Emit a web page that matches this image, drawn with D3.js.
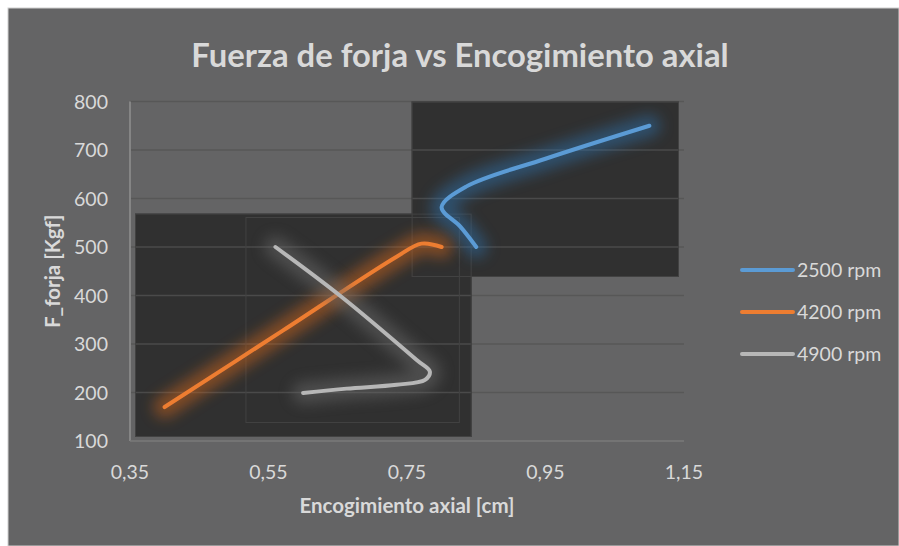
<!DOCTYPE html>
<html>
<head>
<meta charset="utf-8">
<script src="https://cdn.jsdelivr.net/npm/d3@7"></script>
<style>
	body { margin:0; background:#ffffff; }
	text { font-family: Lato, "Open Sans", sans-serif; fill:#d9d9d9; }
</style>
</head>
<body>
<script>
// series values
var rpm2500X = [0.85, 0.827, 0.80, 0.836, 0.95, 1.10];
var rpm2500Y = [500, 542, 582, 625, 682, 750];
var rpm4200X = [0.40, 0.57, 0.735, 0.771, 0.80];
var rpm4200Y = [170, 327, 480, 507, 500];
var rpm4900X = [0.56, 0.653, 0.764, 0.783, 0.776, 0.735, 0.663, 0.60];
var rpm4900Y = [500, 400, 267, 243, 226, 216, 208, 199];

var seriesNames = ['2500 rpm', '4200 rpm', '4900 rpm'];
var seriesColors = ['#5b9bd5', '#ed7d31', '#b7b7b7'];
var glowColors = ['#2f6fa8', '#d0661a', '#6a6a6a'];

var xTicks = [0.35, 0.55, 0.75, 0.95, 1.15];
var yTicks = [100, 200, 300, 400, 500, 600, 700, 800];

var titleText = 'Fuerza de forja vs Encogimiento axial';
var xTitle = 'Encogimiento axial [cm]';
var yTitle = 'F_forja [Kgf]';

function chart(){
	var svgW = 899, svgH = 546;
	var plot = {l:130, r:684, t:101.5, b:441};

	var x = d3.scaleLinear().domain([0.35, 1.15]).range([plot.l, plot.r]);
	var y = d3.scaleLinear().domain([100, 800]).range([plot.b, plot.t]);

	var series = [
		{name:seriesNames[0], pts:d3.zip(rpm2500X, rpm2500Y)},
		{name:seriesNames[1], pts:d3.zip(rpm4200X, rpm4200Y)},
		{name:seriesNames[2], pts:d3.zip(rpm4900X, rpm4900Y)}
	];
	series.forEach(function(s, i){ s.color = seriesColors[i]; s.glow = glowColors[i]; });

	var svg = d3.select('body').append('svg').attr('width', svgW).attr('height', svgH);

	var defs = svg.append('defs');
	defs.append('filter').attr('id', 'glow').attr('x', '-50%').attr('y', '-50%').attr('width', '200%').attr('height', '200%')
		.append('feGaussianBlur').attr('stdDeviation', 7);

	// chart background
	svg.append('rect').attr('x', 8).attr('y', 8).attr('width', svgW - 8).attr('height', svgH - 8)
		.attr('fill', '#646465').attr('stroke', '#d0d0d0').attr('stroke-width', 1);

	// dark boxes around each glowing line (bounding box + 30px, clipped to plot)
	var pad = 30;
	series.forEach(function(s){
		var ex = d3.extent(s.pts, function(d){ return d[0]; });
		var ey = d3.extent(s.pts, function(d){ return d[1]; });
		s.box = {
			x1: Math.max(plot.l + 5, x(ex[0]) - pad), x2: Math.min(plot.r - 5, x(ex[1]) + pad),
			y1: Math.max(plot.t, y(ey[1]) - pad), y2: Math.min(plot.b - 4, y(ey[0]) + pad)
		};
	});

	var clip = defs.append('clipPath').attr('id', 'boxes');
	clip.selectAll('rect').data(series).enter().append('rect')
		.attr('x', function(d){ return d.box.x1; }).attr('y', function(d){ return d.box.y1; })
		.attr('width', function(d){ return d.box.x2 - d.box.x1; }).attr('height', function(d){ return d.box.y2 - d.box.y1; });

	// gridlines over the background
	svg.append('g').selectAll('line').data(yTicks.slice(1)).enter().append('line')
		.attr('x1', plot.l).attr('x2', plot.r).attr('y1', function(d){ return y(d); }).attr('y2', function(d){ return y(d); })
		.attr('stroke', '#575757').attr('stroke-width', 1.5);

	svg.append('g').selectAll('rect').data(series).enter().append('rect')
		.attr('x', function(d){ return d.box.x1; }).attr('y', function(d){ return d.box.y1; })
		.attr('width', function(d){ return d.box.x2 - d.box.x1; }).attr('height', function(d){ return d.box.y2 - d.box.y1; })
		.attr('fill', '#303030');

	// gridlines inside the dark boxes
	svg.append('g').attr('clip-path', 'url(#boxes)').selectAll('line').data(yTicks.slice(1)).enter().append('line')
		.attr('x1', plot.l).attr('x2', plot.r).attr('y1', function(d){ return y(d); }).attr('y2', function(d){ return y(d); })
		.attr('stroke', '#4a4a4a').attr('stroke-width', 1.5);

	svg.append('g').selectAll('rect').data(series).enter().append('rect')
		.attr('x', function(d){ return d.box.x1 + 0.5; }).attr('y', function(d){ return d.box.y1 + 0.5; })
		.attr('width', function(d){ return d.box.x2 - d.box.x1 - 1; }).attr('height', function(d){ return d.box.y2 - d.box.y1 - 1; })
		.attr('fill', 'none').attr('stroke', '#424242').attr('stroke-width', 1);

	// axis lines
	svg.append('line').attr('x1', plot.l).attr('x2', plot.l).attr('y1', plot.t).attr('y2', plot.b)
		.attr('stroke', '#858585').attr('stroke-width', 2);
	svg.append('line').attr('x1', plot.l).attr('x2', plot.r).attr('y1', plot.b).attr('y2', plot.b)
		.attr('stroke', '#7a7a7a').attr('stroke-width', 1.5);

	var line = d3.line().x(function(d){ return x(d[0]); }).y(function(d){ return y(d[1]); })
		.curve(d3.curveCatmullRom.alpha(0.5));

	// glow then line, per series
	var g = svg.append('g').selectAll('g').data(series).enter().append('g');
	g.append('path').attr('d', function(d){ return line(d.pts); })
		.attr('fill', 'none').attr('stroke', function(d){ return d.glow; }).attr('stroke-width', 22)
		.attr('stroke-linecap', 'round').attr('stroke-linejoin', 'round').attr('opacity', 0.5)
		.attr('filter', 'url(#glow)');
	g.append('path').attr('d', function(d){ return line(d.pts); })
		.attr('fill', 'none').attr('stroke', function(d){ return d.color; }).attr('stroke-width', 4)
		.attr('stroke-linecap', 'round').attr('stroke-linejoin', 'round');

	// tick labels
	svg.append('g').selectAll('text').data(yTicks).enter().append('text')
		.attr('x', 108).attr('y', function(d){ return y(d) + 7; }).attr('text-anchor', 'end')
		.style('font-size', '19.5px').text(function(d){ return d; });
	svg.append('g').selectAll('text').data(xTicks).enter().append('text')
		.attr('x', function(d){ return x(d); }).attr('y', 479).attr('text-anchor', 'middle')
		.style('font-size', '19.5px').text(function(d){ return d3.format('.2f')(d).replace('.', ','); });

	// titles
	svg.append('text').attr('x', 460).attr('y', 67).attr('text-anchor', 'middle')
		.style('font-size', '32.8px').style('font-weight', 'bold').text(titleText);
	svg.append('text').attr('x', (plot.l + plot.r) / 2).attr('y', 513).attr('text-anchor', 'middle')
		.style('font-size', '20.5px').style('font-weight', 'bold').text(xTitle);
	svg.append('text').attr('transform', 'translate(60,' + ((plot.t + plot.b) / 2) + ') rotate(-90)')
		.attr('text-anchor', 'middle').style('font-size', '20.5px').style('font-weight', 'bold').text(yTitle);

	// legend
	var leg = svg.append('g').selectAll('g').data(series).enter().append('g')
		.attr('transform', function(d, i){ return 'translate(742,' + (270 + i * 42) + ')'; });
	leg.append('line').attr('x1', 0).attr('x2', 51).attr('stroke', function(d){ return d.color; })
		.attr('stroke-width', 4).attr('stroke-linecap', 'round');
	leg.append('text').attr('x', 55).attr('y', 7).style('font-size', '19.5px').text(function(d){ return d.name; });
}
chart();
</script>
</body>
</html>
